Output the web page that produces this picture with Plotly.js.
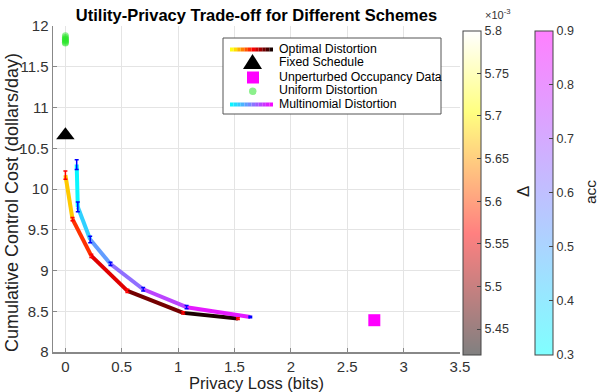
<!DOCTYPE html>
<html>
<head>
<meta charset="utf-8">
<script src="https://cdn.plot.ly/plotly-3.0.1.min.js"></script>
<style>
  body { margin: 0; background: #fff; }
  #C1 { width: 598px; height: 392px; }
</style>
</head>
<body>
<div id="C1"></div>
<script>
// data
const optX = [0.0, 0.063, 0.23, 0.55, 1.045, 1.53];
const optY = [10.17, 9.63, 9.18, 8.75, 8.48, 8.41];
const optErr = [0.05, 0.02, 0.02, 0.02, 0.015, 0.01];
const optDelta = [5.74, 5.61, 5.57, 5.52, 5.45, 5.42];   // x 1e-3

const mulX = [0.10, 0.11, 0.22, 0.40, 0.69, 1.075, 1.64];
const mulY = [10.30, 9.78, 9.38, 9.08, 8.77, 8.55, 8.43];
const mulErr = [0.06, 0.06, 0.04, 0.02, 0.02, 0.02, 0.01];
const mulAcc = [0.30, 0.34, 0.48, 0.58, 0.70, 0.78, 0.90];

const fixedX = [0.0];
const fixedY = [10.66];
const rawX = [2.74];
const rawY = [8.39];
const uniX = [0, 0, 0, 0, 0, 0, 0];
const uniY = [11.79, 11.82, 11.84, 11.86, 11.88, 11.83, 11.80];

const deltaMin = 5.42, deltaMax = 5.8;
const accMin = 0.3, accMax = 0.9;

// colormaps
function clamp(v) { return Math.max(0, Math.min(1, v)); }
function hot(t) {
  const r = clamp(t / 0.375), g = clamp((t - 0.375) / 0.375), b = clamp((t - 0.75) / 0.25);
  return 'rgb(' + Math.round(r * 255) + ',' + Math.round(g * 255) + ',' + Math.round(b * 255) + ')';
}
function cool(t) {
  return 'rgb(' + Math.round(t * 255) + ',' + Math.round((1 - t) * 255) + ',255)';
}

const font = 'Liberation Sans, Arial, Helvetica, sans-serif';
const data = [];

// gradient lines drawn segment by segment
function addSegments(xs, ys, vals, vmin, vmax, cmap) {
  for (let i = 0; i < xs.length - 1; i++) {
    const t = ((vals[i] + vals[i + 1]) / 2 - vmin) / (vmax - vmin);
    data.push({
      x: [xs[i], xs[i + 1]], y: [ys[i], ys[i + 1]],
      mode: 'lines', type: 'scatter', showlegend: false, hoverinfo: 'skip',
      line: { color: cmap(t), width: 4 }
    });
  }
}
addSegments(optX, optY, optDelta, deltaMin, deltaMax, hot);
addSegments(mulX, mulY, mulAcc, accMin, accMax, cool);

// error bars + colorbars
data.push({
  x: optX, y: optY, mode: 'markers', type: 'scatter', showlegend: false,
  error_y: { type: 'data', array: optErr, color: 'red', thickness: 1.5, width: 2 },
  marker: {
    color: optDelta, cmin: deltaMin, cmax: deltaMax, opacity: 0, size: 3,
    colorscale: [[0, 'rgb(128,128,128)'], [0.375, 'rgb(255,128,128)'], [0.75, 'rgb(255,255,128)'], [1, 'rgb(255,255,255)']],
    showscale: true,
    colorbar: {
      x: 1.008, xanchor: 'left', xpad: 0, y: 0.9856, yanchor: 'top', ypad: 0,
      len: 0.995, lenmode: 'fraction', thickness: 18,
      outlinecolor: '#444', outlinewidth: 1,
      ticks: 'inside', ticklen: 4, tickcolor: '#444',
      tickvals: [5.45, 5.5, 5.55, 5.6, 5.65, 5.7, 5.75, 5.8],
      tickfont: { family: font, size: 12.5, color: '#333' }
    }
  }
});
data.push({
  x: mulX, y: mulY, mode: 'markers', type: 'scatter', showlegend: false,
  error_y: { type: 'data', array: mulErr, color: 'blue', thickness: 1.5, width: 2 },
  marker: {
    color: mulAcc, cmin: accMin, cmax: accMax, opacity: 0, size: 3,
    colorscale: [[0, 'rgb(128,255,255)'], [1, 'rgb(255,128,255)']],
    showscale: true,
    colorbar: {
      x: 1.184, xanchor: 'left', xpad: 0, y: 0.9856, yanchor: 'top', ypad: 0,
      len: 0.995, lenmode: 'fraction', thickness: 18,
      outlinecolor: '#444', outlinewidth: 1,
      ticks: 'inside', ticklen: 4, tickcolor: '#444',
      tickvals: [0.3, 0.4, 0.5, 0.6, 0.7, 0.8, 0.9],
      tickfont: { family: font, size: 12.5, color: '#333' }
    }
  }
});

// point schemes
data.push({ x: uniX, y: uniY, mode: 'markers', type: 'scatter', showlegend: false,
  marker: { color: 'rgba(40,230,40,0.5)', size: 7, symbol: 'circle' } });
data.push({ x: fixedX, y: fixedY, mode: 'markers', type: 'scatter', showlegend: false,
  marker: { color: 'black', size: 16, symbol: 'triangle-up' } });
data.push({ x: rawX, y: rawY, mode: 'markers', type: 'scatter', showlegend: false,
  marker: { color: '#ff00ff', size: 12, symbol: 'square' } });

// pixel -> paper helpers for the hand-made legend
const L = 53, R = 460, T = 26, B = 352;
const fx = p => (p - L) / (R - L);
const fy = p => (B - p) / (B - T);

const shapes = [{
  type: 'rect', xref: 'paper', yref: 'paper', layer: 'above',
  x0: fx(223), x1: fx(441), y0: fy(38), y1: fy(114),
  fillcolor: 'white', line: { color: '#555', width: 1 }
}];
function swatch(y, cmap, t0, t1) {
  const n = 12, x0 = 230, x1 = 273;
  for (let i = 0; i < n; i++) {
    const t = t0 + (t1 - t0) * (i + 0.5) / n;
    shapes.push({ type: 'line', xref: 'paper', yref: 'paper', layer: 'above',
      x0: fx(x0 + (x1 - x0) * i / n), x1: fx(x0 + (x1 - x0) * (i + 1) / n),
      y0: fy(y), y1: fy(y), line: { color: cmap(t), width: 4 } });
  }
}
swatch(49.5, hot, 0.8, 0.0);
shapes.push({ type: 'path', xref: 'paper', yref: 'paper', layer: 'above',
  path: 'M' + fx(252.5) + ',' + fy(54) + ' L' + fx(262) + ',' + fy(69) + ' L' + fx(243) + ',' + fy(69) + ' Z',
  fillcolor: 'black', line: { width: 0 } });
shapes.push({ type: 'rect', xref: 'paper', yref: 'paper', layer: 'above',
  x0: fx(247), x1: fx(259), y0: fy(71.5), y1: fy(83.5), fillcolor: '#ff00ff', line: { width: 0 } });
shapes.push({ type: 'circle', xref: 'paper', yref: 'paper', layer: 'above',
  x0: fx(249), x1: fx(256.5), y0: fy(87.5), y1: fy(95), fillcolor: '#8cf08c', line: { width: 0 } });
swatch(104.5, cool, 0.0, 1.0);

const legendText = ['Optimal Distortion', 'Fixed Schedule', 'Unperturbed Occupancy Data', 'Uniform Distortion', 'Multinomial Distortion'];
const legendRows = [49, 62, 77, 90.5, 104];
const annotations = legendText.map((t, i) => ({
  text: t, xref: 'paper', yref: 'paper', x: fx(277), y: fy(legendRows[i]),
  xanchor: 'left', yanchor: 'middle', showarrow: false,
  font: { family: font, size: 12.3, color: 'black' }
}));
annotations.push({ text: '×10<sup>-3</sup>', xref: 'paper', yref: 'paper', x: fx(483), y: fy(14),
  xanchor: 'left', yanchor: 'middle', showarrow: false, font: { family: font, size: 11, color: '#333' } });
annotations.push({ text: 'Δ', xref: 'paper', yref: 'paper', x: fx(524), y: fy(192), textangle: -90,
  xanchor: 'center', yanchor: 'middle', showarrow: false, font: { family: font, size: 17, color: '#222' } });
annotations.push({ text: 'acc', xref: 'paper', yref: 'paper', x: fx(591), y: fy(192), textangle: -90,
  xanchor: 'center', yanchor: 'middle', showarrow: false, font: { family: font, size: 15.5, color: '#222' } });
annotations.push({ text: 'Cumulative Control Cost (dollars/day)', xref: 'paper', yref: 'paper', x: fx(12), y: fy(203),
  textangle: -90, xanchor: 'center', yanchor: 'middle', showarrow: false,
  font: { family: font, size: 18, color: '#222' } });

const axisCommon = {
  showline: true, linecolor: '#888', linewidth: 1.5, mirror: false,
  ticks: 'inside', ticklen: 4, tickcolor: '#888',
  showgrid: true, gridcolor: '#e4e4e4', gridwidth: 1, zeroline: false,
  tickfont: { family: font, size: 15, color: '#333' }
};

const layout = {
  width: 598, height: 392,
  margin: { l: L, r: 598 - R, t: T, b: 392 - B },
  paper_bgcolor: 'white', plot_bgcolor: 'white',
  showlegend: false,
  title: { text: '<b>Utility-Privacy Trade-off for Different Schemes</b>', x: (L + R) / 2 / 598, xanchor: 'center',
    y: 1 - 15 / 392, yanchor: 'middle', font: { family: font, size: 16.5, color: 'black' } },
  xaxis: Object.assign({}, axisCommon, {
    range: [-0.11, 3.5], tickvals: [0, 0.5, 1, 1.5, 2, 2.5, 3, 3.5],
    title: { text: 'Privacy Loss (bits)', standoff: 0, font: { family: font, size: 16.5, color: '#222' } }
  }),
  yaxis: Object.assign({}, axisCommon, { range: [8, 12], dtick: 0.5 }),
  shapes: shapes,
  annotations: annotations
};

Plotly.newPlot('C1', data, layout, { staticPlot: true });
</script>
</body>
</html>
